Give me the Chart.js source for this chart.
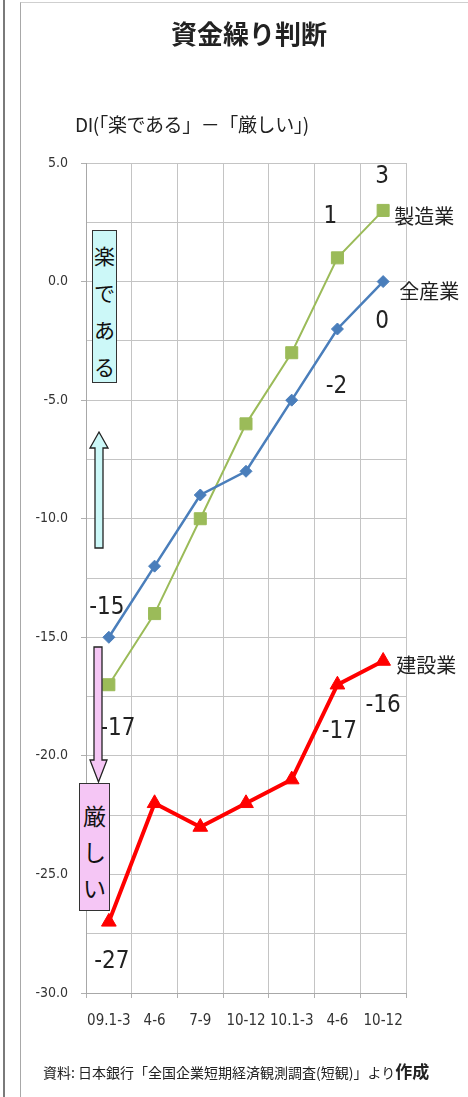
<!DOCTYPE html>
<html lang="ja">
<head>
<meta charset="UTF-8">
<meta name="viewport" content="width=device-width, initial-scale=1.0">
<title>資金繰り判断</title>
<script src="https://cdn.jsdelivr.net/npm/chart.js"></script>
<style>
  body {
    margin: 0;
    background: #fff;
    color: #222;
    font-family: "Noto Sans CJK JP", sans-serif;
  }

  #page {
    position: relative;
    width: 468px;
    height: 1097px;
    overflow: hidden;
  }

  .edge {
    position: absolute;
    left: 3px;
    top: 0;
    width: 2px;
    height: 1097px;
    background: #7a7a7a;
  }

  .frame {
    position: absolute;
    left: 20px;
    top: 2px;
    width: 460px;
    height: 1110px;
    border-left: 1px solid #a8a8a8;
    border-top: 1px solid #cfcfcf;
  }

  #chartBox {
    position: absolute;
    left: 0;
    top: 0;
    width: 468px;
    height: 1097px;
  }

  h1 {
    position: absolute;
    left: 30px;
    right: 0;
    top: 19px;
    margin: 0;
    text-align: center;
    font-size: 26px;
    line-height: 28px;
    font-weight: bold;
  }

  .sub {
    position: absolute;
    left: 75px;
    top: 114px;
    font-size: 19px;
    line-height: 19px;
    letter-spacing: -0.4px;
    white-space: nowrap;
  }

  .note {
    position: absolute;
    left: 43px;
    top: 1062px;
    font-size: 14px;
    line-height: 17px;
    white-space: nowrap;
  }

  .note b {
    font-size: 17px;
  }

  .tag {
    position: absolute;
    box-sizing: border-box;
    border: 1px solid #333;
    text-align: center;
    color: #111;
  }

  .tag.up {
    left: 92px;
    top: 230px;
    width: 25px;
    height: 153px;
    padding-top: 6px;
    background: #ccf8f8;
    font-size: 21px;
    line-height: 37px;
  }

  .tag.down {
    left: 79px;
    top: 783px;
    width: 31px;
    height: 128px;
    padding-top: 13px;
    background: #f5c6f5;
    font-size: 23px;
    line-height: 36px;
  }

  svg.arrows {
    position: absolute;
    left: 0;
    top: 0;
  }
</style>
</head>
<body>
<div id="page">
  <div class="edge"></div>
  <div class="frame"></div>
  <div id="chartBox"><canvas id="diChart"></canvas></div>

  <h1>資金繰り判断</h1>
  <div class="sub">DI(「楽である」－「厳しい」)</div>

  <svg class="arrows" width="468" height="1097">
    <polygon points="99,432 90,448 95,448 95,548 103,548 103,448 108,448"
             fill="#ccf8f8" stroke="#222" stroke-width="1.3"/>
    <polygon points="94,647 102,647 102,760 107,760 98.5,782 90,760 94,760"
             fill="#f5c6f5" stroke="#222" stroke-width="1.3"/>
  </svg>
  <div class="tag up">楽<br>で<br>あ<br>る</div>
  <div class="tag down">厳<br>し<br>い</div>

  <div class="note">資料: 日本銀行「全国企業短期経済観測調査(短観)」より<b>作成</b></div>
</div>

<script>
  const quarters = ['09.1-3', '4-6', '7-9', '10-12', '10.1-3', '4-6', '10-12'];
  const allIndustries = [-15, -12, -9, -8, -5, -2, 0];
  const manufacturing = [-17, -14, -10, -6, -3, 1, 3];
  const construction = [-27, -22, -23, -22, -21, -17, -16];
  const seriesNames = ['全産業', '製造業', '建設業'];
  const yMin = -30, yMax = 5, yStep = 2.5, yLabelEvery = 5;

  const narrow = '"Liberation Sans Narrow", "DejaVu Sans Condensed", sans-serif';

  // which points get a value label, and where it sits relative to the point
  const valueLabels = [
    { ds: 0, i: 0, dx: -2, dy: -30 },
    { ds: 0, i: 5, dx: -1, dy: 58 },
    { ds: 0, i: 6, dx: -1, dy: 40 },
    { ds: 1, i: 0, dx: 9, dy: 44 },
    { ds: 1, i: 5, dx: -7, dy: -41 },
    { ds: 1, i: 6, dx: -1, dy: -34 },
    { ds: 2, i: 0, dx: 3, dy: 40 },
    { ds: 2, i: 5, dx: 2, dy: 47 },
    { ds: 2, i: 6, dx: 0, dy: 45 }
  ];
  // series names next to the last point
  const nameLabels = [
    { ds: 0, dx: 16, dy: 10 },
    { ds: 1, dx: 11, dy: 6 },
    { ds: 2, dx: 13, dy: 4 }
  ];

  const pointLabels = {
    id: 'pointLabels',
    afterDatasetsDraw(chart) {
      const ctx = chart.ctx;
      ctx.save();
      ctx.fillStyle = '#222';
      ctx.textBaseline = 'middle';
      ctx.textAlign = 'center';
      ctx.font = '24px ' + narrow;
      valueLabels.forEach(l => {
        const pt = chart.getDatasetMeta(l.ds).data[l.i];
        const v = chart.data.datasets[l.ds].data[l.i];
        ctx.fillText(String(v), pt.x + l.dx, pt.y + l.dy);
      });
      ctx.textAlign = 'left';
      ctx.font = '20px "Noto Sans CJK JP", sans-serif';
      nameLabels.forEach(l => {
        const meta = chart.getDatasetMeta(l.ds);
        const pt = meta.data[meta.data.length - 1];
        ctx.fillText(chart.data.datasets[l.ds].label, pt.x + l.dx, pt.y + l.dy);
      });
      ctx.restore();
    }
  };

  new Chart(document.getElementById('diChart'), {
    type: 'line',
    data: {
      labels: quarters,
      datasets: [{
        label: seriesNames[0],
        data: allIndustries,
        borderColor: '#4a7ebb',
        backgroundColor: '#4a7ebb',
        borderWidth: 2.5,
        pointStyle: 'rectRot',
        pointRadius: 6,
        pointBorderWidth: 1
      }, {
        label: seriesNames[1],
        data: manufacturing,
        borderColor: '#9bbb59',
        backgroundColor: '#9bbb59',
        borderWidth: 2,
        pointStyle: 'rect',
        pointRadius: 8.5,
        pointBorderWidth: 1
      }, {
        label: seriesNames[2],
        data: construction,
        borderColor: '#ff0000',
        backgroundColor: '#ff0000',
        borderWidth: 4,
        pointStyle: 'triangle',
        pointRadius: 8.5,
        pointBorderWidth: 1
      }]
    },
    options: {
      responsive: true,
      maintainAspectRatio: false,
      animation: false,
      layout: { padding: { left: 0, right: 62, top: 163, bottom: 44 } },
      plugins: {
        legend: { display: false },
        tooltip: { enabled: false }
      },
      elements: { line: { tension: 0 } },
      scales: {
        x: {
          offset: true,
          grid: {
            offset: true,
            color: '#c4c4c4',
            tickColor: '#b0b0b0',
            tickLength: 5
          },
          border: { color: '#a8a8a8' },
          ticks: {
            color: '#333',
            font: { family: narrow, size: 15 },
            padding: 14,
            maxRotation: 0,
            autoSkip: false
          },
          afterFit(scale) { scale.height = 60; }
        },
        y: {
          min: yMin,
          max: yMax,
          grid: {
            color: '#c4c4c4',
            tickColor: c => (c.tick && c.tick.value % yLabelEvery === 0) ? '#b0b0b0' : 'rgba(0,0,0,0)',
            tickLength: 5
          },
          border: { color: '#a8a8a8' },
          ticks: {
            stepSize: yStep,
            color: '#333',
            font: { family: narrow, size: 14 },
            padding: 13,
            callback: v => v % yLabelEvery === 0 ? v.toFixed(1) : ''
          },
          afterFit(scale) { scale.width = 86; }
        }
      }
    },
    plugins: [pointLabels]
  });
</script>
</body>
</html>
